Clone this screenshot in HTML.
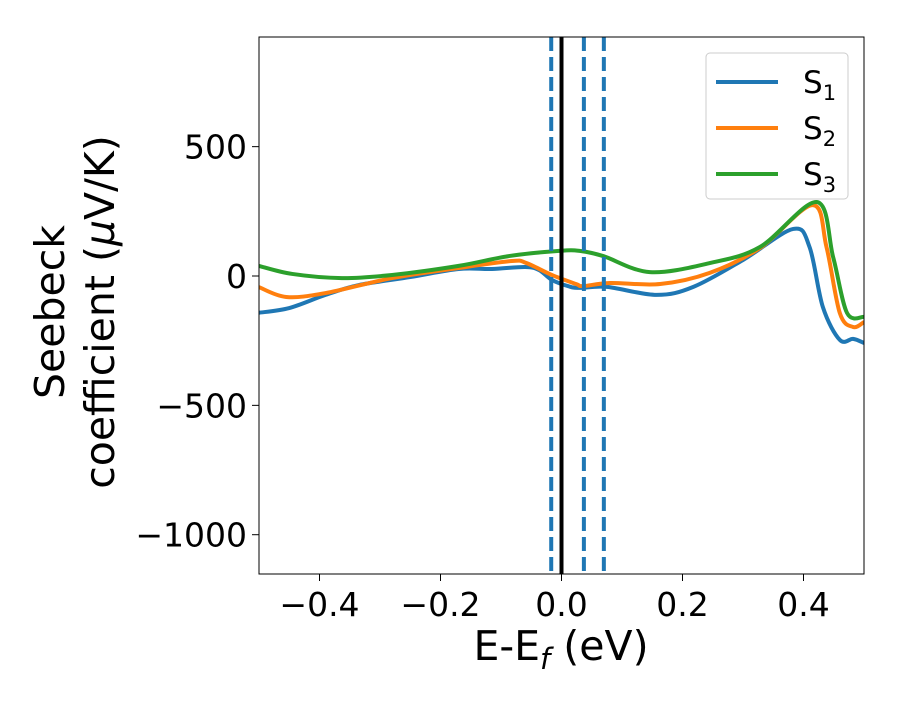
<!DOCTYPE html>
<html><head><meta charset="utf-8"><style>
body{margin:0;background:#fff}
svg text{font-family:"DejaVu Sans","Liberation Sans",sans-serif;fill:#000}
</style></head><body>
<svg id="chart" width="900" height="700" xmlns="http://www.w3.org/2000/svg">
<rect width="900" height="700" fill="#fff"/>
<defs><clipPath id="clip"><rect x="259" y="37" width="605" height="537"/></clipPath></defs>
<g id="plot" clip-path="url(#clip)"></g>
<rect x="259" y="37" width="605" height="537" fill="none" stroke="#000" stroke-width="1"/>
<g id="ticks"></g>
<text x="561" y="660" font-size="41" text-anchor="middle">E-E<tspan font-style="italic" font-size="29" dy="9">f</tspan><tspan dy="-9"> (eV)</tspan></text>
<g transform="translate(0,312) rotate(-90)">
<text x="0" y="64" font-size="41" text-anchor="middle">Seebeck</text>
<text x="0" y="114" font-size="41" text-anchor="middle">coefficient  (<tspan font-style="italic">μ</tspan>V/K)</text>
</g>
<g>
<rect x="706" y="53" width="142" height="146" rx="4" fill="#fff" fill-opacity="0.8" stroke="#ccc"/>
<g id="legend-items"></g>
</g>
</svg>
<script>
const xTicks=[-0.4,-0.2,0.0,0.2,0.4];
const xTickLabels=["−0.4","−0.2","0.0","0.2","0.4"];
const yTicks=[500,0,-500,-1000];
const yTickLabels=["500","0","−500","−1000"];
const vLinesDashed=[-0.017,0.037,0.070];
const vLineSolid=[0];
const seriesNames=["S1","S2","S3"];
const s1E=[-0.5,-0.45,-0.39,-0.335,-0.25,-0.17,-0.115,-0.06,-0.037,-0.016,0.012,0.03,0.075,0.157,0.218,0.30,0.383,0.41,0.432,0.46,0.482,0.5];
const s1V=[-142,-124,-73,-35,-4,27,27,35,23,-15,-40,-46,-42,-73,-42,62,182,112,-120,-247,-243,-259];
const s2E=[-0.5,-0.455,-0.39,-0.28,-0.17,-0.082,-0.058,-0.016,0.024,0.036,0.08,0.163,0.245,0.328,0.415,0.438,0.46,0.482,0.5];
const s2V=[-43,-81,-66,-8,31,58,50,4,-31,-39,-27,-31,12,108,274,112,-143,-197,-178];
const s3E=[-0.5,-0.445,-0.363,-0.28,-0.17,-0.087,-0.004,0.03,0.069,0.146,0.245,0.328,0.422,0.449,0.472,0.5];
const s3V=[39,8,-8,4,39,77,97,97,77,15,50,112,286,73,-143,-158];
const colors=["#1f77b4","#ff7f0e","#2ca02c"];
const NS="http://www.w3.org/2000/svg";
function X(e){return 561.5+e*605;}
function Y(v){return 276-v*0.2587;}
function mk(tag,attrs,parent){const el=document.createElementNS(NS,tag);for(const k in attrs)el.setAttribute(k,attrs[k]);parent.appendChild(el);return el;}
const plot=document.getElementById('plot'),ticks=document.getElementById('ticks'),leg=document.getElementById('legend-items');
function smooth(E,V){const p=E.map((e,i)=>[X(e),Y(V[i])]);let d=`M${p[0][0]},${p[0][1]}`;
for(let i=0;i<p.length-1;i++){const p0=p[Math.max(0,i-1)],p1=p[i],p2=p[i+1],p3=p[Math.min(p.length-1,i+2)];
const c1=[p1[0]+(p2[0]-p0[0])/6,p1[1]+(p2[1]-p0[1])/6],c2=[p2[0]-(p3[0]-p1[0])/6,p2[1]-(p3[1]-p1[1])/6];
d+=`C${c1[0]},${c1[1]} ${c2[0]},${c2[1]} ${p2[0]},${p2[1]}`;}return d;}
const allE=[s1E,s2E,s3E],allV=[s1V,s2V,s3V];
for(let i=0;i<3;i++){
const path=mk('path',{d:smooth(allE[i],allV[i]),fill:'none',stroke:colors[i],'stroke-width':4},plot);

}
vLinesDashed.forEach((e,i)=>{const l=mk('line',{x1:X(e),x2:X(e),y1:37,y2:574,stroke:'#1f77b4','stroke-width':4,'stroke-dasharray':'14,6'},plot);

});
vLineSolid.forEach(e=>{const l=mk('line',{x1:X(e),x2:X(e),y1:37,y2:574,stroke:'#000','stroke-width':4},plot);

});
xTicks.forEach((t,i)=>{const x=X(t);mk('line',{x1:x,x2:x,y1:574,y2:581,stroke:'#000'},ticks);
const tx=mk('text',{x:x,y:616,'font-size':33,'text-anchor':'middle'},ticks);tx.textContent=xTickLabels[i];

});
yTicks.forEach((t,i)=>{const y=Y(t);mk('line',{x1:252,x2:259,y1:y,y2:y,stroke:'#000'},ticks);
const tx=mk('text',{x:247,y:y+12,'font-size':33,'text-anchor':'end'},ticks);tx.textContent=yTickLabels[i];

});
for(let i=0;i<3;i++){const y=82+i*46;
mk('line',{x1:716,x2:778,y1:y,y2:y,stroke:colors[i],'stroke-width':4},leg);
const tx=mk('text',{x:803,y:y+11,'font-size':31},leg);
tx.innerHTML='S<tspan font-size="21" dy="7">'+(i+1)+'</tspan>';

}
</script>
</body></html>
